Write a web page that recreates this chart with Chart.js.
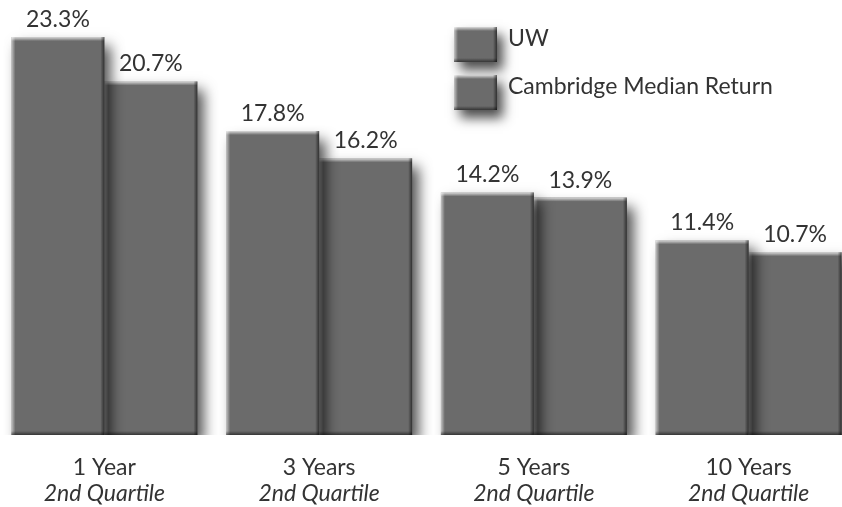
<!DOCTYPE html>
<html>
<head>
<meta charset="utf-8">
<script src="https://cdn.jsdelivr.net/npm/chart.js@4"></script>
<style>
  html, body { margin: 0; padding: 0; background: #fff; overflow: hidden; }
  /* plot runs a little past both page edges */
  #wrap { width: 859px; height: 507px; position: absolute; left: -3px; top: 0; }
</style>
</head>
<body>
<div id="wrap"><canvas id="returnsChart"></canvas></div>
<script>
var periods = ['1 Year', '3 Years', '5 Years', '10 Years'];
var quartiles = ['2nd Quartile', '2nd Quartile', '2nd Quartile', '2nd Quartile'];
var uwReturns = [23.3, 17.8, 14.2, 11.4];
var cambridgeReturns = [20.7, 16.2, 13.9, 10.7];

var barGrey = '#6b6b6b';
var textGrey = '#333333';
var fontFamily = 'Lato, "Open Sans", sans-serif';
var shiftX = 3; // canvas starts 3px left of the page

// soft drop shadow under every bar
var shadowPlugin = {
    id: 'barShadow',
    beforeDatasetDraw: function (chart) {
        var ctx = chart.ctx;
        ctx.save();
        ctx.shadowColor = 'rgba(0,0,0,0.7)';
        ctx.shadowBlur = 13;
        ctx.shadowOffsetX = 7;
        ctx.shadowOffsetY = 9;
    },
    afterDatasetDraw: function (chart) {
        chart.ctx.restore();
    }
};

function bevel(ctx, x, y, w, h) {
    // light top and left edges, dark right and bottom edges
    var g = ctx.createLinearGradient(x, y, x, y + 4);
    g.addColorStop(0, 'rgba(255,255,255,0.75)');
    g.addColorStop(1, 'rgba(255,255,255,0)');
    ctx.fillStyle = g;
    ctx.fillRect(x, y, w, 4);

    g = ctx.createLinearGradient(x, 0, x + 4, 0);
    g.addColorStop(0, 'rgba(255,255,255,0.6)');
    g.addColorStop(1, 'rgba(255,255,255,0)');
    ctx.fillStyle = g;
    ctx.fillRect(x, y, 4, h);

    g = ctx.createLinearGradient(x + w - 4, 0, x + w, 0);
    g.addColorStop(0, 'rgba(0,0,0,0)');
    g.addColorStop(1, 'rgba(0,0,0,0.55)');
    ctx.fillStyle = g;
    ctx.fillRect(x + w - 4, y, 4, h);

    g = ctx.createLinearGradient(x, y + h - 4, x, y + h);
    g.addColorStop(0, 'rgba(0,0,0,0)');
    g.addColorStop(1, 'rgba(0,0,0,0.5)');
    ctx.fillStyle = g;
    ctx.fillRect(x, y + h - 4, w, 4);
}

var bevelPlugin = {
    id: 'barBevel',
    afterDatasetDraw: function (chart, args) {
        var ctx = chart.ctx;
        ctx.save();
        args.meta.data.forEach(function (bar) {
            var p = bar.getProps(['x', 'y', 'base', 'width'], true);
            bevel(ctx, p.x - p.width / 2, p.y, p.width, p.base - p.y);
        });
        ctx.restore();
    }
};

// value labels, category labels and legend
var textPlugin = {
    id: 'chartText',
    afterDraw: function (chart) {
        var ctx = chart.ctx;
        ctx.save();
        ctx.fillStyle = textGrey;
        ctx.textAlign = 'center';
        ctx.textBaseline = 'alphabetic';
        ctx.font = '23px ' + fontFamily;
        chart.data.datasets.forEach(function (ds, i) {
            chart.getDatasetMeta(i).data.forEach(function (bar, j) {
                ctx.fillText(ds.data[j].toFixed(1) + '%', bar.x, bar.y - 10);
            });
        });

        var xs = chart.scales.x;
        periods.forEach(function (p, i) {
            var cx = xs.getPixelForValue(i);
            ctx.font = '23px ' + fontFamily;
            ctx.fillText(p, cx, 475);
            ctx.font = 'italic 23px ' + fontFamily;
            ctx.fillText(quartiles[i], cx, 501);
        });

        // legend
        chart.data.datasets.forEach(function (ds, i) {
            var bx = 454 + shiftX, by = 27 + i * 48, bw = 43, bh = 35;
            ctx.save();
            ctx.shadowColor = 'rgba(0,0,0,0.7)';
            ctx.shadowBlur = 11;
            ctx.shadowOffsetX = 6;
            ctx.shadowOffsetY = 8;
            ctx.fillStyle = ds.backgroundColor;
            ctx.fillRect(bx, by, bw, bh);
            ctx.restore();
            bevel(ctx, bx, by, bw, bh);
            ctx.fillStyle = textGrey;
            ctx.textAlign = 'left';
            ctx.textBaseline = 'alphabetic';
            ctx.font = '23px ' + fontFamily;
            ctx.fillText(ds.label, 508 + shiftX, by + 19);
        });
        ctx.restore();
    }
};

var canvas = document.getElementById('returnsChart');
var returnsChart = new Chart(canvas, {
    type: 'bar',
    data: {
        labels: periods,
        datasets: [{
            label: 'UW',
            data: uwReturns,
            backgroundColor: barGrey
        }, {
            label: 'Cambridge Median Return',
            data: cambridgeReturns,
            backgroundColor: barGrey
        }]
    },
    options: {
        responsive: true,
        maintainAspectRatio: false,
        animation: false,
        events: [],
        layout: {
            padding: { left: 0, right: 0, top: 0, bottom: 72 }
        },
        datasets: {
            bar: { categoryPercentage: 0.866, barPercentage: 1.0 }
        },
        scales: {
            x: { display: false },
            y: { display: false, min: 0, max: 25.47 }
        },
        plugins: {
            legend: { display: false },
            tooltip: { enabled: false }
        }
    },
    plugins: [shadowPlugin, bevelPlugin, textPlugin]
});
</script>
</body>
</html>
